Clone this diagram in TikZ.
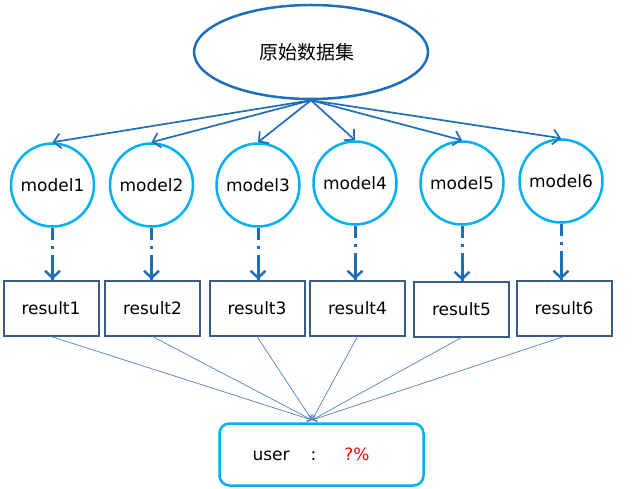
\documentclass[tikz,border=0pt]{standalone}
\usepackage{fontspec}
\setmainfont{DejaVu Sans}
\newfontfamily\cjk{Noto Sans CJK SC}
\usepackage{xcolor}
\usetikzlibrary{shapes.geometric,arrows.meta}
\definecolor{deep}{HTML}{1F6FB8}
\definecolor{sky}{HTML}{00B0F0}
\definecolor{frame}{HTML}{385D8A}
\definecolor{thin}{HTML}{4F81BD}
\tikzset{
  src/.style={ellipse, draw=deep, line width=2.5pt, minimum width=234pt, minimum height=94pt, inner sep=0pt},
  model/.style={circle, draw=sky, line width=2.5pt, minimum size=83pt, inner sep=0pt, font=\fontsize{17}{20}\selectfont},
  res/.style={rectangle, draw=frame, line width=2pt, minimum width=95pt, minimum height=55pt, inner sep=0pt, font=\fontsize{17}{20}\selectfont},
  usr/.style={rectangle, rounded corners=10pt, draw=sky, line width=2.5pt, minimum width=204pt, minimum height=62pt, inner sep=0pt, font=\fontsize{17}{20}\selectfont},
  fan/.style={draw=deep, line width=1.7pt, -{Straight Barb[length=7pt,width=15pt,line width=1.7pt]}},
  down/.style={draw=deep, line width=3pt, dash pattern=on 12pt off 6pt on 3pt off 6pt on 60pt off 0pt},
  tip/.style={draw=deep, line width=3pt, -{Straight Barb[length=7pt,width=15pt,line width=2.5pt]}},
  feed/.style={draw=thin, line width=0.7pt, -{Straight Barb[length=4pt,width=7pt,line width=0.7pt]}},
}
\begin{document}
\begin{tikzpicture}[x=1pt,y=-1pt]
  \useasboundingbox (0,0) rectangle (639,489);
  \node[src] (data) at (311,52) {\cjk\fontsize{19}{21}\selectfont 原始数据集\hspace{8pt}\mbox{}};
  \node[model] (m1) at (52.5,185) {model1};
  \node[model] (m2) at (151.5,185) {model2};
  \node[model] (m3) at (258,185) {model3};
  \node[model] (m4) at (355,183) {model4};
  \node[model] (m5) at (462,183) {model5};
  \node[model] (m6) at (561,181) {model6};
  \node[res] (r1) at (51,308) {result1};
  \node[res] (r2) at (152.5,308) {result2};
  \node[res] (r3) at (257,308) {result3};
  \node[res] (r4) at (357.5,308) {result4};
  \node[res] (r5) at (461.5,309) {result5};
  \node[res] (r6) at (564,308) {result6};
  \node[usr] (u) at (321.5,454.5) {user\hspace{21pt}:\hspace{28pt}\textcolor{red}{?\%}\hspace{21pt}\mbox{}};
  \coordinate (hub) at (312,420); % where the thin lines meet
  \draw[fan] (data.south) -- (m1.north);
  \draw[fan] (data.south) -- (m2.north);
  \draw[fan] (data.south) -- (m3.north);
  \draw[fan] (data.south) -- (m4.north);
  \draw[fan] (data.south) -- (m5.north);
  \draw[fan] (data.south) -- (m6.north);
  % dash-dot shaft, then a solid end with the tip
  \draw[down] (m1.south) -- (m1.south |- r1.north);
  \draw[down] (m2.south) -- (m2.south |- r2.north);
  \draw[down] (m3.south) -- (m3.south |- r3.north);
  \draw[down] (m4.south) -- (m4.south |- r4.north);
  \draw[down] (m5.south) -- (m5.south |- r5.north);
  \draw[down] (m6.south) -- (m6.south |- r6.north);
  \draw[tip] ([yshift=12pt]m1.south |- r1.north) -- (m1.south |- r1.north);
  \draw[tip] ([yshift=12pt]m2.south |- r2.north) -- (m2.south |- r2.north);
  \draw[tip] ([yshift=12pt]m3.south |- r3.north) -- (m3.south |- r3.north);
  \draw[tip] ([yshift=12pt]m4.south |- r4.north) -- (m4.south |- r4.north);
  \draw[tip] ([yshift=12pt]m5.south |- r5.north) -- (m5.south |- r5.north);
  \draw[tip] ([yshift=12pt]m6.south |- r6.north) -- (m6.south |- r6.north);
  \draw[feed] (r1.south) -- (hub);
  \draw[feed] (r2.south) -- (hub);
  \draw[feed] (r3.south) -- (hub);
  \draw[feed] (r4.south) -- (hub);
  \draw[feed] (r5.south) -- (hub);
  \draw[feed] (r6.south) -- (hub);
\end{tikzpicture}
\end{document}
